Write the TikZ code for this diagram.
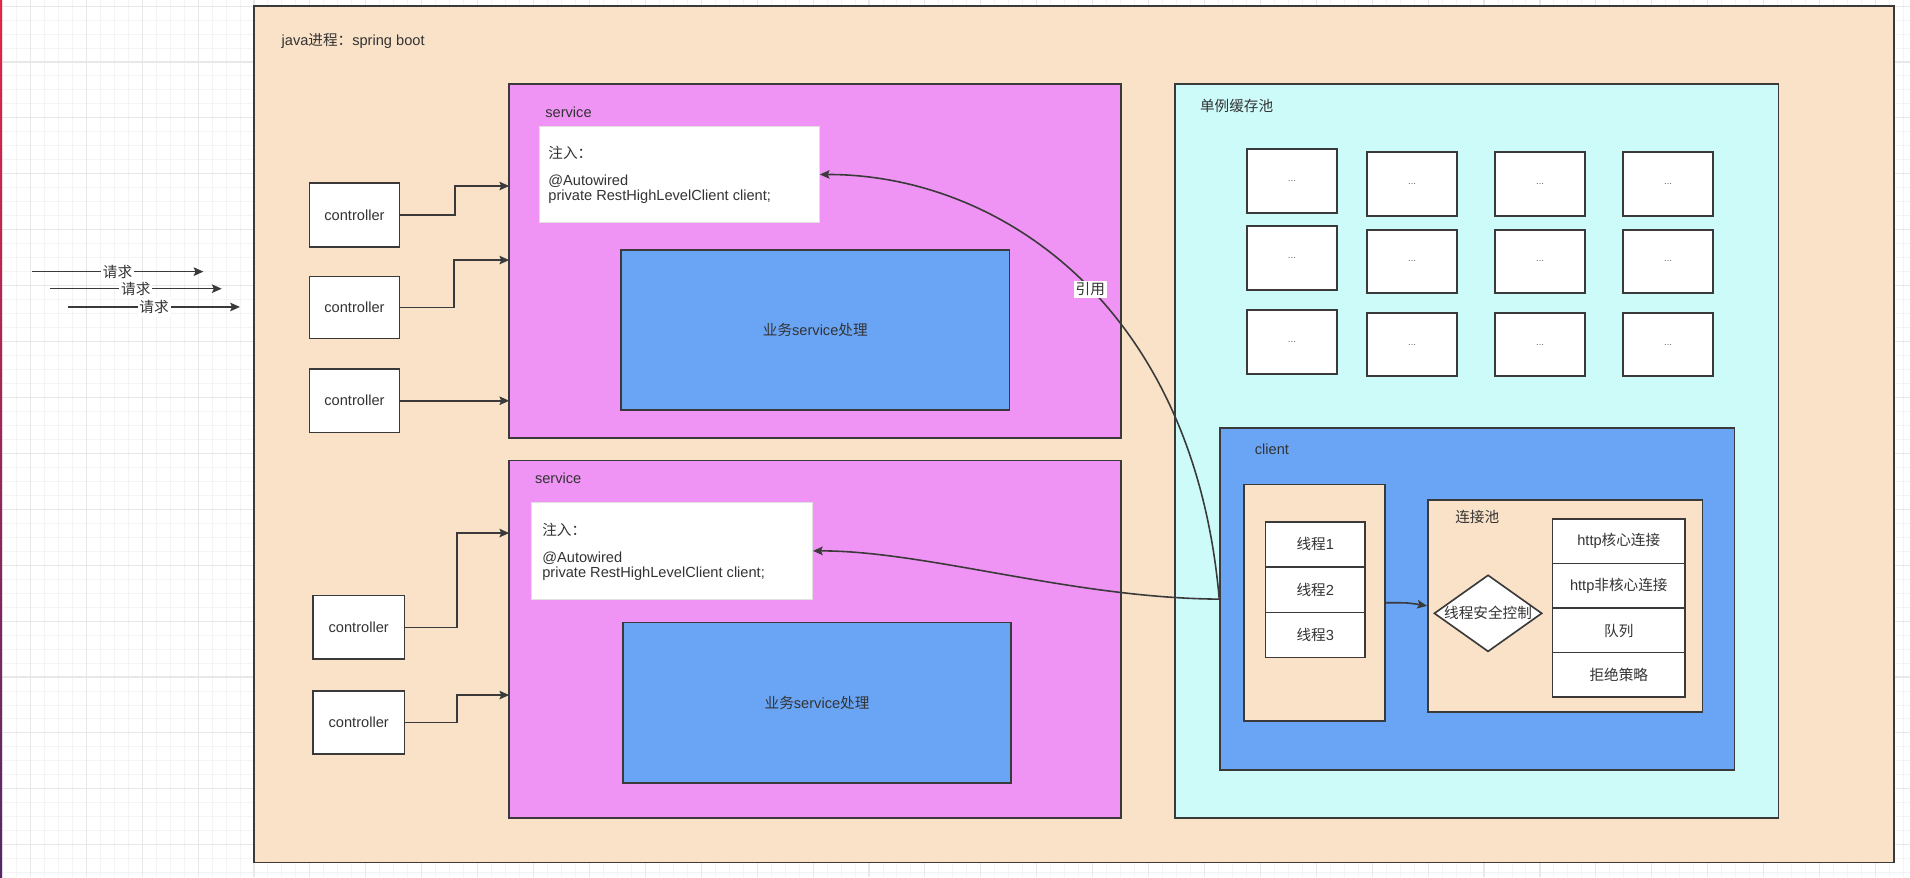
\documentclass[tikz,border=0pt]{standalone}
\usepackage{fontspec}
\setmainfont{Liberation Sans}
\newfontfamily\cjk{Noto Sans CJK SC}
\newcommand\zh[1]{{\cjk #1}}
\usetikzlibrary{arrows.meta,shapes.geometric}

\definecolor{procfill}{RGB}{250,226,200}
\definecolor{svcfill}{RGB}{239,148,245}
\definecolor{bizfill}{RGB}{106,165,245}
\definecolor{cachefill}{RGB}{205,251,250}
\definecolor{edge}{RGB}{58,58,58}
\definecolor{ink}{RGB}{51,51,51}
\definecolor{gridminor}{RGB}{244,244,244}
\definecolor{gridmajor}{RGB}{232,232,232}
\definecolor{stripTop}{RGB}{226,38,72}
\definecolor{stripBot}{RGB}{84,40,104}

\begin{document}
\begin{tikzpicture}[x=1pt,y=-1pt,
  every node/.style={font=\fontsize{12}{14}\selectfont, text=ink},
  panel/.style={draw=edge, line width=1.35pt, rectangle, inner sep=0pt},
  inject/.style={draw=black!12, line width=0.8pt, fill=white, rectangle, inner sep=0pt},
  slot/.style={panel, line width=1.6pt, fill=white, minimum width=74, minimum height=52,
    font=\fontsize{8}{9}\selectfont, text=black!60},
  cell/.style={panel, fill=white},
  lbl/.style={anchor=west, inner sep=0pt},
  arr/.style={draw=edge, line width=1.3pt, -{Stealth[length=8pt,width=7pt,inset=1.5pt]}},
  tag/.style={fill=white, inner sep=1.5pt}]

\useasboundingbox (0,0) rectangle (1568,720);
\fill[white] (0,0) rectangle (1568,720);

% canvas grid
\begin{scope}
  \clip (0,0) rectangle (1568,720);
  \foreach \j in {-19,...,119}
    \draw[gridminor, line width=0.8pt] ({208.5+11.475*\j},0) -- ++(0,720);
  \foreach \j in {-1,...,63}
    \draw[gridminor, line width=0.8pt] (0,{5+11.475*\j}) -- ++(1568,0);
  \foreach \k in {0,...,35}
    \draw[gridmajor, line width=0.9pt] ({-21+45.9*\k},0) -- ++(0,720);
  \foreach \k in {0,...,16}
    \draw[gridmajor, line width=0.9pt] (0,{5+45.9*\k}) -- ++(1568,0);
\end{scope}
\shade[top color=stripTop, bottom color=stripBot] (0,0) rectangle (1.8,720);

% incoming requests
\coordinate (rq1s) at (26,223);  \coordinate (rq1e) at (167,223);
\coordinate (rq2s) at (41,237);  \coordinate (rq2e) at (182,237);
\coordinate (rq3s) at (56,252);  \coordinate (rq3e) at (197,252);
\draw[arr] (rq1s) -- node[tag] (rq1l) {\zh{请求}} (rq1e);
\draw[arr] (rq2s) -- node[tag] (rq2l) {\zh{请求}} (rq2e);
\draw[arr] (rq3s) -- node[tag] (rq3l) {\zh{请求}} (rq3e);

% java process
\node[panel, fill=procfill, minimum width=1346.5, minimum height=703] (proc) at (881.75,356.5) {};
\node[lbl] (proctitle) at (231,34) {java\zh{进程：}spring boot};

% controllers
\node[cell, minimum width=74, minimum height=53] (c1) at (291,176.5) {controller};
\node[cell, minimum width=74, minimum height=51] (c2) at (291,252.5) {controller};
\node[cell, minimum width=74, minimum height=52] (c3) at (291,329) {controller};
\node[cell, minimum width=75, minimum height=52] (c4) at (294.5,515) {controller};
\node[cell, minimum width=75, minimum height=52] (c5) at (294.5,593) {controller};

% first service
\node[panel, fill=svcfill, minimum width=502, minimum height=290.5] (svc1) at (669,214.25) {};
\node[lbl] (svc1title) at (447.5,92) {service};
\node[inject, minimum width=229.6, minimum height=79.5] (inj1) at (557.8,143.25) {};
\node[lbl] (inj1a) at (450,125.6) {\zh{注入：}};
\node[lbl] (inj1b) at (450,148.6) {@Autowired};
\node[lbl] (inj1c) at (450,161.2) {private RestHighLevelClient client;};
\node[panel, fill=bizfill, minimum width=318.6, minimum height=131.6] (biz1) at (669.3,270.8) {\zh{业务}service\zh{处理}};

% second service
\node[panel, fill=svcfill, minimum width=502, minimum height=293.6] (svc2) at (669,524.8) {};
\node[lbl] (svc2title) at (439,392.5) {service};
\node[inject, minimum width=230.4, minimum height=79.1] (inj2) at (551.8,452.25) {};
\node[lbl] (inj2a) at (445,435) {\zh{注入：}};
\node[lbl] (inj2b) at (445,458) {@Autowired};
\node[lbl] (inj2c) at (445,470.6) {private RestHighLevelClient client;};
\node[panel, fill=bizfill, minimum width=318.5, minimum height=132] (biz2) at (670.75,577) {\zh{业务}service\zh{处理}};

% controller -> service wiring
\coordinate (s1a) at (418,152.7);
\coordinate (s1b) at (418,213.5);
\coordinate (s1c) at (418,329);
\coordinate (s2a) at (418,437.6);
\coordinate (s2b) at (418,570.6);
\draw[arr] (c1.east) -- (373.5,176.5) |- (s1a);
\draw[arr] (c2.east) -- (372.7,252.5) |- (s1b);
\draw[arr] (c3.east) -- (s1c);
\draw[arr] (c4.east) -- (375,515) |- (s2a);
\draw[arr] (c5.east) -- (375,593) |- (s2b);

% singleton cache
\node[panel, fill=cachefill, minimum width=495.4, minimum height=602.3] (cache) at (1212.3,370.35) {};
\node[lbl] (cachetitle) at (985,87) {\zh{单例缓存池}};
\foreach \n/\cx/\cy in {
    11/1060.6/148.6, 12/1159.25/151.05, 13/1264.35/151.05, 14/1369.4/151.05,
    21/1060.6/211.85, 22/1159.25/214.65, 23/1264.35/214.65, 24/1369.4/214.65,
    31/1060.6/280.75, 32/1159.25/282.85, 33/1264.35/282.85, 34/1369.4/282.85}
  \node[slot] (slot\n) at (\cx,\cy) {...};

% client
\node[panel, fill=bizfill, minimum width=422.4, minimum height=280.5] (client) at (1212.8,491.85) {};
\node[lbl] (clienttitle) at (1030,368.6) {client};
\node[panel, fill=procfill, minimum width=115.8, minimum height=194.4] (thrbox) at (1079.1,494.8) {};
\node[cell, minimum width=81.8, minimum height=37.2] (t1) at (1079.7,446.9) {\zh{线程}1};
\node[cell, minimum width=81.8, minimum height=37.2] (t2) at (1079.7,484.1) {\zh{线程}2};
\node[cell, minimum width=81.8, minimum height=37.2] (t3) at (1079.7,521.3) {\zh{线程}3};

% connection pool
\node[panel, fill=procfill, minimum width=225.5, minimum height=173.8] (pool) at (1284.95,497.4) {};
\node[lbl] (pooltitle) at (1194.5,424.2) {\zh{连接池}};
\node[diamond, draw=edge, line width=1.35pt, fill=white, inner sep=0pt,
      minimum width=88.6, minimum height=63] (ctl) at (1221.6,503.5) {};
\node (ctltext) at (ctl.center) {\zh{线程安全控制}};
\node[cell, minimum width=108.8, minimum height=36.5] (p1) at (1328.9,444.25) {http\zh{核心连接}};
\node[cell, minimum width=108.8, minimum height=36.5] (p2) at (1328.9,480.95) {http\zh{非核心连接}};
\node[cell, minimum width=108.8, minimum height=36.5] (p3) at (1328.9,517.6) {\zh{队列}};
\node[cell, minimum width=108.8, minimum height=36.5] (p4) at (1328.9,553.9) {\zh{拒绝策略}};

\draw[arr] (thrbox.east) .. controls (1156,494.8) .. (pool.west);

% references from the injected fields to the shared client
\draw[arr] (client.west) .. controls (980,250) and (820,143) .. (inj1.east)
  node[pos=0.47, tag] (reflabel) {\zh{引用}};
\draw[arr] (client.west) .. controls (880,491) and (760,452) .. (inj2.east);

\end{tikzpicture}
\end{document}
